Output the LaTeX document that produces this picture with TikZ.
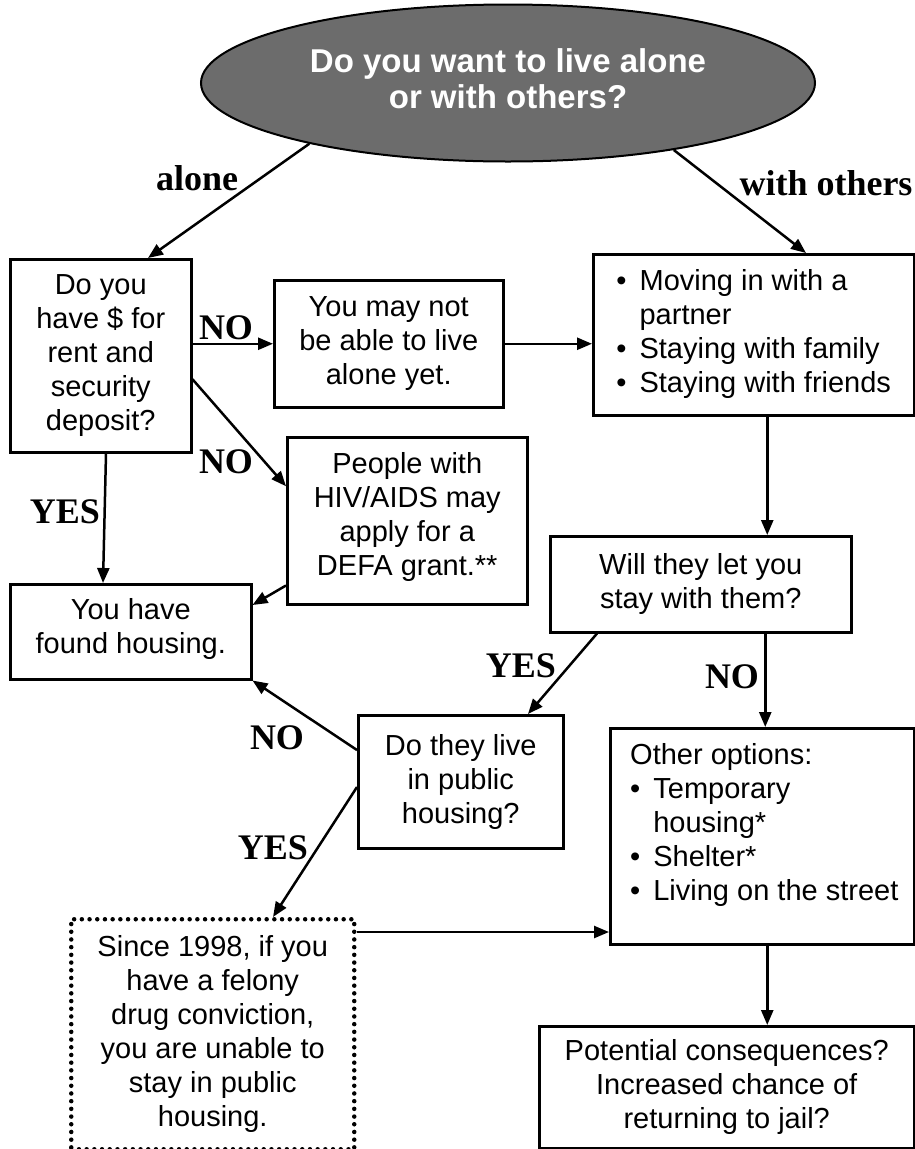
\documentclass[tikz,border=0pt]{standalone}
\usepackage{fontspec}
\setmainfont{Liberation Sans}
\newfontfamily\lblfont{Liberation Serif}
\usetikzlibrary{shapes.geometric,arrows.meta}
\definecolor{ellgray}{RGB}{108,108,108}
\newcommand\bodyfont{\fontsize{29}{34}\selectfont}
\begin{document}
\begin{tikzpicture}[x=1pt,y=1pt,
  box/.style={draw, line width=2.5pt, rectangle, anchor=north west, inner sep=0pt, align=center, font=\bodyfont},
  dotbox/.style={box, line width=4.5pt, dash pattern=on 0pt off 7.7pt, line cap=round},
  lbl/.style={font=\lblfont\bfseries\fontsize{36}{40}\selectfont, anchor=base, inner sep=0pt},
  arr/.style={-{Triangle[length=15pt,width=12pt]}, line width=2.5pt},
  bl/.style={font=\bodyfont, anchor=north west, inner sep=0pt}
]
\useasboundingbox (0,0) rectangle (915,-1149);

% title ellipse
\node[ellipse, draw, line width=2pt, fill=ellgray, minimum width=614pt, minimum height=157pt,
      inner sep=0pt, text=white, align=center, font=\bfseries\fontsize{33}{36}\selectfont]
      (Q) at (508,-83) {};
\node[text=white, align=center, font=\bfseries\fontsize{33}{36}\selectfont, inner sep=0pt]
      (Qt) at ([yshift=4pt]Q.center) {Do you want to live alone\\or with others?};

% boxes
\node[box, minimum width=181pt, minimum height=193pt] (A) at (9,-258)
  {Do you\\have \$ for\\rent and\\security\\deposit?};
\node[box, minimum width=229pt, minimum height=127pt] (B) at (273,-279)
  {You may not\\be able to live\\alone yet.};
\node[box, minimum width=321pt, minimum height=161pt] (C) at (592,-253)
  {\begin{tabular}{@{}l@{\hspace{13pt}}l@{}}•&Moving in with a\\&partner\\•&Staying with family\\•&Staying with friends\end{tabular}};
\node[box, minimum width=240pt, minimum height=167pt] (D) at (286,-436) {};
\node[align=center, font=\bodyfont, inner sep=0pt] (Dt) at ([yshift=4pt]D.center)
  {People with\\HIV/AIDS may\\apply for a\\DEFA grant.**};
\node[box, minimum width=241pt, minimum height=95pt] (E) at (9,-583) {};
\node[align=center, font=\bodyfont, inner sep=0pt] (Et) at ([yshift=3pt]E.center)
  {You have\\found housing.};
\node[box, minimum width=301pt, minimum height=96pt] (F) at (549,-535)
  {Will they let you\\stay with them?};
\node[box, minimum width=205pt, minimum height=133pt] (G) at (357,-714)
  {Do they live\\in public\\housing?};
\node[box, minimum width=304pt, minimum height=216pt] (H) at (609,-727) {};
\node[bl] (Ht) at ([shift={(21,-13)}]H.north west)
  {\begin{tabular}{@{}l@{\hspace{13pt}}l@{}}\multicolumn{2}{@{}l@{}}{Other options:}\\•&Temporary\\&housing*\\•&Shelter*\\•&Living on the street\end{tabular}};
\node[dotbox, minimum width=283pt, minimum height=230pt] (I) at (69,-917)
  {Since 1998, if you\\have a felony\\drug conviction,\\you are unable to\\stay in public\\housing.};
\node[box, minimum width=375pt, minimum height=122pt] (J) at (538,-1025)
  {Potential consequences?\\Increased chance of\\returning to jail?};

% labels
\node[lbl] (lalone) at (197,-190) {alone};
\node[lbl] (lwith) at (826,-195) {with others};
\node[lbl] (lno1) at (226,-339) {NO};
\node[lbl] (lno2) at (226,-473) {NO};
\node[lbl] (lyes1) at (65,-523) {YES};
\node[lbl] (lyes2) at (521,-677) {YES};
\node[lbl] (lno3) at (732,-688) {NO};
\node[lbl] (lno4) at (277,-749) {NO};
\node[lbl] (lyes3) at (273,-859) {YES};

% connectors
\draw[arr] (Q.197) -- ([xshift=139pt]A.north west);
\draw[arr] (Q.338) -- ([xshift=214pt]C.north west);
\draw[arr] (A.east |- B.west) -- (B.west);
\draw[arr] ([yshift=-23.5pt]A.east) -- ([yshift=34.5pt]D.west);
\draw[arr] ([xshift=97pt]A.south west) -- ([xshift=94pt]E.north west);
\draw[arr] ([yshift=20pt]D.south west) -- ([yshift=-22pt]E.north east);
\draw[arr] (B.east) -- (B.east -| C.west);
\draw[arr] ([xshift=13.5pt]C.south) -- ([xshift=13.5pt]C.south |- F.north);
\draw[arr] ([xshift=48pt]F.south west) -- ([xshift=171pt]G.north west);
\draw[arr] ([xshift=64.5pt]F.south) -- ([xshift=64.5pt]F.south |- H.north);
\draw[arr] ([yshift=-36pt]G.north west) -- (E.south east);
\draw[arr] ([yshift=-73pt]G.north west) -- ([xshift=204pt]I.north west);
\draw[arr] ([yshift=-15pt]I.north east) -- ([yshift=-15pt]I.north east -| H.west);
\draw[arr] ([xshift=5pt]H.south) -- ([xshift=5pt]H.south |- J.north);
\end{tikzpicture}
\end{document}
